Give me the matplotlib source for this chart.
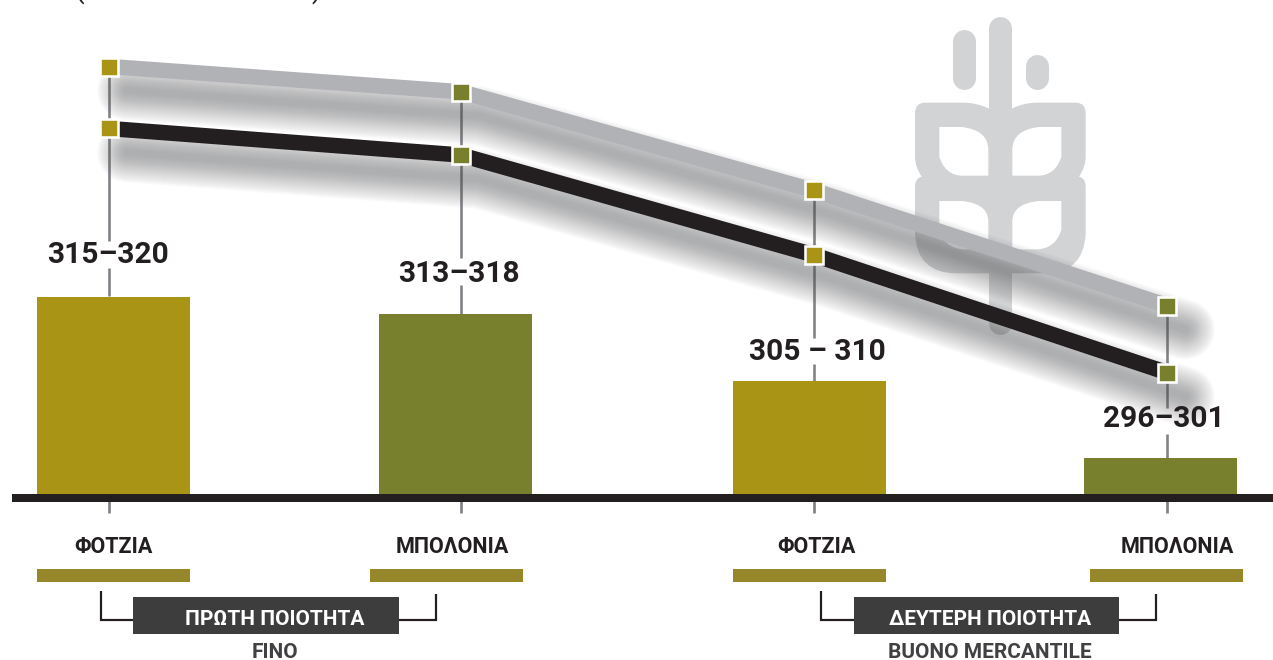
#!/usr/bin/env python
# coding=utf-8

import matplotlib
matplotlib.use("Agg")
import matplotlib.pyplot as plt
from matplotlib.patches import PathPatch, Rectangle
from matplotlib.path import Path
from matplotlib.transforms import offset_copy

W = 1273
H = 660

plt.rcParams['font.family'] = ['Roboto', 'DejaVu Sans']

# values
range_labels = ["315–320", "313–318", "305 – 310", "296–301"]
bar_values = [320, 318, 310.2, 301.2]
line_high = [320, 318, 310.2, 301.1]
line_low = [315.1, 313, 305.1, 295.8]
categories = ["ΦΟΤΖΙΑ", "ΜΠΟΛΟΝΙΑ", "ΦΟΤΖΙΑ", "ΜΠΟΛΟΝΙΑ"]

GOLD = "#a99415"
OLIVE = "#78802e"
DARK = "#231f20"
GREY = "#b1b2b6"
STEM = "#808285"
WHEAT = "#d1d3d5"
STRIP = "#96872a"

bar_colors = [GOLD, OLIVE, GOLD, OLIVE]

# pixel layout
line_x = [109, 461, 814, 1167]
bar_left = [37, 379, 733, 1084]
bar_width = 153
strip_left = [37, 370, 733, 1090]
label_x = [107.5, 459, 817, 1164]
label_base = [263, 281.5, 359.5, 427]
cat_x = [113, 452, 816, 1177]
gaps = [(241, 268), (258, 285), (338, 364), (408, 434)]

fig = plt.figure(figsize=(W / 100, H / 100), dpi=100)


def full_axes(zorder):
    ax = fig.add_axes([0, 0, 1, 1], zorder=zorder)
    ax.set_xlim(0, W)
    ax.axis("off")
    ax.patch.set_alpha(0)
    return ax


ax = full_axes(1)       # pixels, furniture
ax.set_ylim(H, 0)
ax_bar = full_axes(2)   # bar scale, 8.6 px per unit, 297 sits on the axis
ax_bar.set_ylim(297 - (H - 494.5) / 8.6, 297 + 494.5 / 8.6)
ax_line = full_axes(3)  # line scale, 12.65 px per unit
ax_line.set_ylim(320 - (H - 66.5) / 12.65, 320 + 66.5 / 12.65)
ax_top = full_axes(4)   # pixels, text
ax_top.set_ylim(H, 0)


def zx(v):
    return 780 + v / 3


def zy(v):
    return v / 3


def add_shape(points, color, z):
    verts = []
    codes = []
    for p in points:
        if len(p) == 2:
            verts.append((zx(p[0]), zy(p[1])))
            codes.append(Path.LINETO if verts[1:] else Path.MOVETO)
        else:
            verts.append((zx(p[0]), zy(p[1])))
            verts.append((zx(p[2]), zy(p[3])))
            codes += [Path.CURVE3, Path.CURVE3]
    verts.append(verts[0])
    codes.append(Path.CLOSEPOLY)
    ax.add_patch(PathPatch(Path(verts, codes), fc=color, ec="none", zorder=z))


def mirror(points):
    out = []
    for p in points:
        if len(p) == 2:
            out.append((1322 - p[0], p[1]))
        else:
            out.append((1322 - p[0], p[1], 1322 - p[2], p[3]))
    return out


# wheat logo
for x0, y0, y1 in [(661, 85, 970), (551, 122, 235), (771, 197, 235)]:
    ax.plot([zx(x0), zx(x0)], [zy(y0), zy(y1)], color=WHEAT, lw=23 * 0.72,
            solid_capstyle="round", zorder=1)

half = [(661, 325), (625, 325), (590, 308, 550, 308), (435, 308),
        (405, 308, 405, 340), (405, 470), (405, 500, 425, 530),
        (405, 535, 405, 560), (405, 700), (410, 820, 530, 820), (661, 820)]
add_shape(half, WHEAT, 1)
add_shape(mirror(half), WHEAT, 1)

hole_top = [(478, 381), (545, 381), (625, 390, 625, 450), (625, 527), (545, 527),
            (495, 525, 478, 470)]
hole_low = [(478, 603), (545, 603), (625, 610, 625, 665), (625, 748), (550, 748),
            (495, 745, 478, 690)]
for hole in [hole_top, hole_low]:
    add_shape(hole, "white", 2)
    add_shape(mirror(hole), "white", 2)

# stems, broken around the range labels
marker_top = [67, 92, 191, 305]
for x, top, bottom, gap in zip(line_x, marker_top, [296, 314, 381, 459], gaps):
    ax.plot([x, x], [top, gap[0]], color=STEM, lw=2.6 * 0.72, zorder=3,
            solid_capstyle="butt")
    ax.plot([x, x], [gap[1], bottom], color=STEM, lw=2.6 * 0.72, zorder=3,
            solid_capstyle="butt")
    ax.plot([x, x], [500, 513], color=STEM, lw=2.7 * 0.72, zorder=3,
            solid_capstyle="butt")

# bars and base line
ax_bar.bar(bar_left, [v - 297 for v in bar_values], width=bar_width, bottom=297,
           align="edge", color=bar_colors, linewidth=0)
ax_top.add_patch(Rectangle((12, 494), W - 12, 7.7, fc=DARK, ec="none"))

# soft shadows under the two lines
shadow_tr = offset_copy(ax_line.transData, fig=fig, x=18, y=-24, units="dots")
n_layers = 28
for vals in [line_high, line_low]:
    for i in range(n_layers):
        width_px = 60 - i * 2.0
        ax_line.plot(line_x, vals, color="#58595b", alpha=0.02, lw=width_px * 0.72,
                     transform=shadow_tr, solid_capstyle="round",
                     solid_joinstyle="round", zorder=1)

# the two lines
ax_line.plot(line_x, line_high, color=GREY, lw=15.5 * 0.72, solid_capstyle="butt",
             solid_joinstyle="miter", zorder=2)
ax_line.plot(line_x, line_low, color=DARK, lw=15.5 * 0.72, solid_capstyle="butt",
             solid_joinstyle="miter", zorder=3)

for x, hi, lo, c in zip(line_x, line_high, line_low, bar_colors):
    ax_line.plot([x, x], [hi, lo], ls="none", marker="s", ms=18.5 * 0.72, mfc=c,
                 mec="white", mew=2.6 * 0.72, zorder=4)

# clipped parentheses at the very top
ax_top.text(79, -2, "(", fontsize=20, color=DARK, ha="center", va="baseline")
ax_top.text(316, -2, ")", fontsize=20, color=DARK, ha="center", va="baseline")

# range labels
for x, y, s in zip(label_x, label_base, range_labels):
    ax_top.text(x, y, s, fontsize=21.5, fontweight="bold", color=DARK, ha="center",
                va="baseline")

# category labels and strips
for x, s in zip(cat_x, categories):
    ax_top.text(x, 553, s, fontsize=15.5, fontweight="bold", color=DARK, ha="center",
                va="baseline")
for x in strip_left:
    ax_top.add_patch(Rectangle((x, 569), bar_width, 13, fc=STRIP, ec="none"))

# brackets and quality boxes
groups = [(100.7, 436, 133, 265.5, "ΠΡΩΤΗ ΠΟΙΟΤΗΤΑ", "FINO", 275),
          (821, 1155.6, 854, 265, "ΔΕΥΤΕΡΗ ΠΟΙΟΤΗΤΑ", "BUONO MERCANTILE", 990)]
for left, right, bx, bw, title, sub, cx in groups:
    ax_top.plot([left, left, right, right], [591, 619.5, 619.5, 594], color=DARK,
                lw=2.2 * 0.72, solid_joinstyle="miter", solid_capstyle="butt")
    ax_top.add_patch(Rectangle((bx, 597), bw, 37, fc="#3d3d3d", ec="none", zorder=3))
    ax_top.text(cx, 625, title, fontsize=15, fontweight="bold", color="white",
                ha="center", va="baseline", zorder=4)
    ax_top.text(cx, 657.5, sub, fontsize=15, color="#414042", fontweight="bold",
                ha="center", va="baseline")

fig.savefig("out.png", dpi=100, facecolor="white")
